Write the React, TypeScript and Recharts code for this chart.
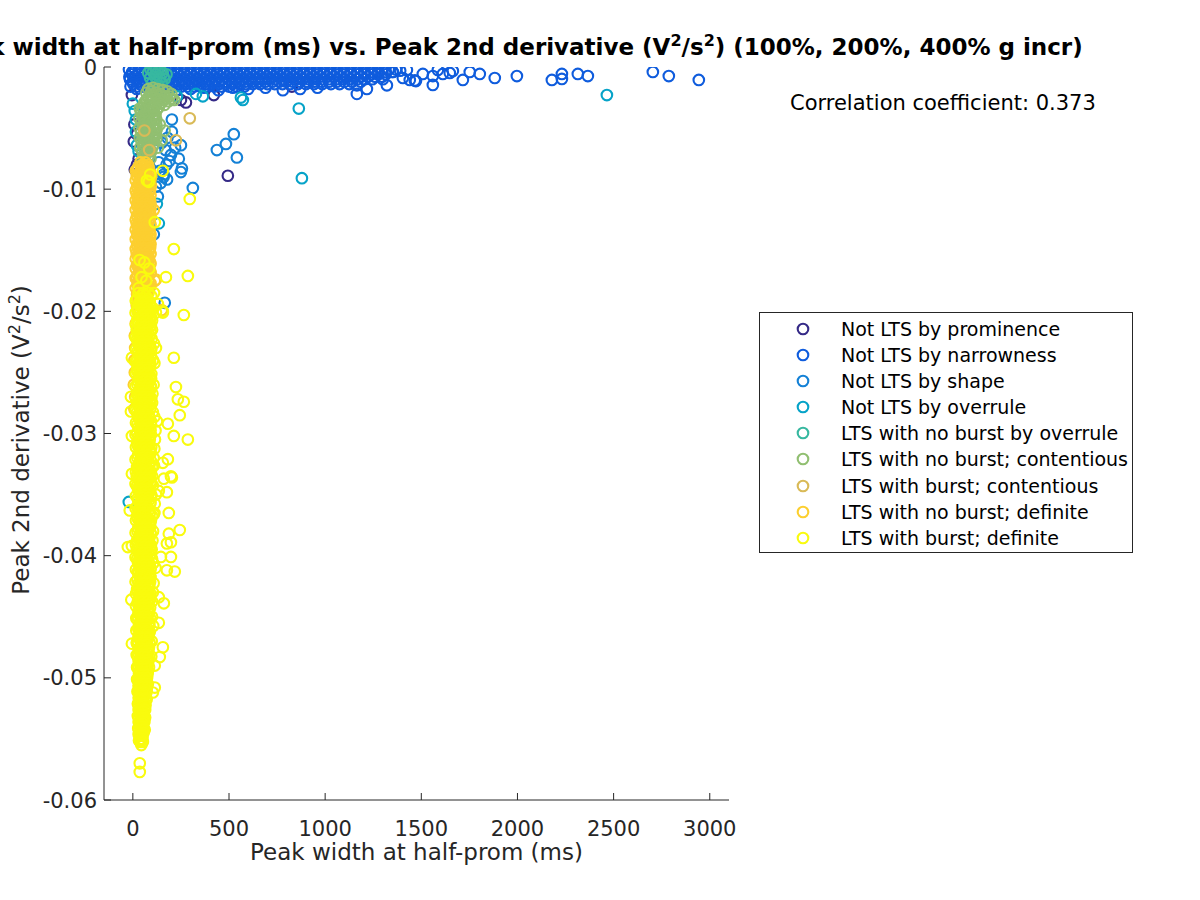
import React from 'react';
import { ScatterChart, Scatter, XAxis, YAxis, Legend } from 'recharts';

const FONT = '"DejaVu Sans", sans-serif';
const AXIS = '#262626';

const seriesNames = [
  'Not LTS by prominence',
  'Not LTS by narrowness',
  'Not LTS by shape',
  'Not LTS by overrule',
  'LTS with no burst by overrule',
  'LTS with no burst; contentious',
  'LTS with burst; contentious',
  'LTS with no burst; definite',
  'LTS with burst; definite',
];
const seriesColors = ['#352A87', '#0F5CDD', '#1481D6', '#06A3C8', '#37B8A0', '#91BF71', '#D9BA57', '#FCCF30', '#F9FB0E'];
const xTicks = [0, 500, 1000, 1500, 2000, 2500, 3000];
const yTicks = [-0.06, -0.05, -0.04, -0.03, -0.02, -0.01, 0];
const correlation = 0.373;

// [width (ms), peak 2nd derivative (V^2/s^2)]
const notLtsProminence: [number, number][] = [
  [-5, -0.0023], [276, -0.0029], [250, -0.0027], [421, -0.0023], [21, -0.0055], [5, -0.0061],
  [494, -0.0089], [827, -0.0016], [10, -0.0084], [21, -0.008], [30, -0.0075], [8, -0.0047],
];

// rows of [peak 2nd derivative, widths...]
const notLtsNarrownessRows: [number, number[]][] = [
  [-0.0002, [-20, 12, 45, 80, 112, 148, 180, 215, 250, 283, 318, 352, 388, 420, 455, 490, 524, 560, 593, 628, 662, 698, 732, 768, 800, 836, 870, 905, 940, 975, 1010, 1045, 1080, 1115, 1150, 1185, 1222, 1258, 1295, 1330, 1368]],
  [-0.0004, [-3, 30, 62, 96, 130, 164, 197, 232, 266, 300, 335, 370, 404, 437, 472, 507, 541, 576, 610, 645, 680, 715, 750, 784, 818, 853, 888, 922, 957, 992, 1027, 1062, 1097, 1133, 1168, 1204, 1240, 1276, 1312, 1350]],
  [-0.0006, [-5, 28, 62, 96, 130, 165, 198, 232, 266, 300, 335, 370, 404, 438, 472, 507, 541, 576, 610, 645, 680, 715, 750, 785, 818, 852, 888, 922, 958, 992, 1027, 1062, 1097, 1132, 1168, 1204, 1240, 1276, 1315]],
  [-0.0008, [-18, 14, 46, 80, 114, 148, 182, 216, 250, 284, 318, 352, 386, 420, 455, 490, 524, 558, 592, 626, 660, 695, 730, 765, 800, 835, 870, 905, 940, 975, 1010, 1045, 1080, 1115, 1150, 1186, 1222, 1260, 1296]],
  [-0.001, [-15, 18, 52, 86, 120, 155, 188, 222, 256, 290, 325, 360, 394, 428, 463, 498, 532, 566, 600, 636, 670, 705, 740, 775, 810, 845, 880, 915, 950, 986, 1022, 1058, 1094, 1130, 1168, 1205, 1245]],
  [-0.0012, [0, 34, 68, 102, 136, 170, 205, 240, 274, 308, 342, 377, 411, 446, 480, 515, 550, 585, 620, 655, 690, 726, 762, 798, 834, 870, 906, 944, 982, 1020, 1060, 1100, 1140, 1185]],
  [-0.0014, [2, 36, 70, 104, 138, 172, 206, 240, 275, 310, 345, 380, 414, 448, 483, 518, 553, 588, 624, 662, 700, 738, 778, 818, 858, 900, 942, 985, 1030, 1075, 1125]],
  [-0.0016, [-12, 22, 55, 88, 120, 152, 185, 218, 252, 285, 318, 352, 388, 424, 462, 500, 540, 580]],
];
const notLtsNarrowness: [number, number][] = [
  [20, -0.0018], [90, -0.0019], [160, -0.0018], [225, -0.0019], [300, -0.0018], [370, -0.0017], [445, -0.0019],
  [520, -0.0017], [600, -0.0018], [690, -0.0017], [780, -0.0019], [870, -0.0018], [960, -0.0017],
  [1165, -0.0022], [1217, -0.0018], [1165, -0.0015], [1321, -0.0015],
  [1274, -0.0006], [1300, -0.001], [1352, -0.0004], [1390, -0.0003], [1404, -0.0009], [1425, -0.00025],
  [1440, -0.00106], [1466, -0.0011], [1472, -0.00115], [1508, -0.00057], [1560, -0.00074], [1560, -0.00147],
  [1586, -0.00025], [1612, -0.00057], [1648, -0.00049], [1664, -0.00033], [1716, -0.00106], [1752, -0.00041],
  [1804, -0.00057], [1882, -0.0009], [1997, -0.00074], [2179, -0.00106], [2231, -0.00057], [2231, -0.00098],
  [2314, -0.00057], [2366, -0.00074], [2704, -0.00041], [2787, -0.00074], [2943, -0.00106],
];

const notLtsShape: [number, number][] = [
  [203, -0.0043], [203, -0.0053], [525, -0.0055], [484, -0.0063], [437, -0.0068], [250, -0.0064], [239, -0.0075],
  [541, -0.0074], [255, -0.0083], [198, -0.0072], [175, -0.008], [312, -0.0099], [130, -0.0106], [145, -0.0095],
  [166, -0.0193], [250, -0.0086], [109, -0.0137], [160, -0.0088], [220, -0.0066], [180, -0.0058], [150, -0.0062],
  [170, -0.0068], [190, -0.0077], [140, -0.0085], [160, -0.009], [178, -0.0092], [120, -0.0098], [135, -0.0078],
];

const notLtsOverrule: [number, number][] = [
  [0, -0.003], [328, -0.0022], [364, -0.0024], [229, -0.0024], [562, -0.0025], [572, -0.0027], [863, -0.0034],
  [879, -0.0091], [2465, -0.0023], [-21, -0.0356], [16, -0.0043], [16, -0.0053], [21, -0.0064], [42, -0.0078],
  [10, -0.0036], [30, -0.0069], [125, -0.0112], [135, -0.0128],
];

const ltsNoBurstOverrule: [number, number][] = [
  [80, -0.0005], [105, -0.0004], [130, -0.0004], [155, -0.0005], [175, -0.0006], [90, -0.0009], [115, -0.0008],
  [140, -0.0009], [165, -0.001], [100, -0.0013], [125, -0.0012], [150, -0.0013], [110, -0.0017], [135, -0.0016],
  [92, -0.0002], [118, -0.0002], [145, -0.0003], [160, -0.0008], [120, -0.0006],
];

const ltsNoBurstContentious: [number, number][] = [
  [80, -0.0018], [105, -0.0017], [130, -0.0018], [155, -0.0019], [180, -0.002], [200, -0.0022], [95, -0.0023],
  [120, -0.0023], [145, -0.0024], [175, -0.0026], [70, -0.0027], [100, -0.0027], [125, -0.0028], [150, -0.0029],
  [70, -0.0021], [95, -0.002], [120, -0.0021], [145, -0.0022], [170, -0.0024], [80, -0.0025], [105, -0.0025],
  [130, -0.0026], [155, -0.0027], [185, -0.0028], [60, -0.0029], [90, -0.0029], [115, -0.003], [140, -0.003],
  [165, -0.0031], [190, -0.0024], [215, -0.0027], [203, -0.0026],
  [48, -0.0033], [72, -0.0034], [98, -0.0033], [125, -0.0035], [42, -0.0037], [66, -0.0038], [92, -0.0037],
  [118, -0.0039], [50, -0.0041], [75, -0.0042], [100, -0.0041], [45, -0.0045], [68, -0.0046], [95, -0.0045],
  [122, -0.0047], [52, -0.0049], [78, -0.005], [102, -0.0049], [44, -0.0053], [70, -0.0054], [96, -0.0053],
  [120, -0.0055], [50, -0.0057], [76, -0.0058], [100, -0.0057], [46, -0.0061], [72, -0.0062], [98, -0.0061],
  [54, -0.0065], [80, -0.0066], [104, -0.0065], [48, -0.0069], [74, -0.007], [96, -0.0069], [55, -0.0073],
  [80, -0.0074], [62, -0.0076], [140, -0.0047], [165, -0.0052], [150, -0.006], [130, -0.0066],
  [60, -0.0031], [85, -0.0032], [110, -0.0032], [135, -0.0033], [56, -0.0035], [82, -0.0036], [108, -0.0036],
  [58, -0.0039], [84, -0.004], [110, -0.004], [60, -0.0043], [86, -0.0044], [110, -0.0043], [58, -0.0047],
  [84, -0.0048], [110, -0.0047], [60, -0.0051], [88, -0.0052], [112, -0.0051], [58, -0.0055], [84, -0.0056],
  [108, -0.0056], [60, -0.0059], [86, -0.006], [110, -0.0059], [58, -0.0063], [84, -0.0064], [110, -0.0063],
  [62, -0.0067], [88, -0.0068], [64, -0.0071], [88, -0.0072],
  [36, -0.0034], [34, -0.0042], [34, -0.005], [36, -0.0058], [38, -0.0066], [122, -0.0043], [124, -0.0051],
  [122, -0.0059], [92, -0.0075], [68, -0.0078],
];

const ltsBurstContentious: [number, number][] = [[296, -0.0042], [224, -0.006], [60, -0.0052], [85, -0.0068]];

const ltsNoBurstDefiniteRows: [number, number[]][] = [
  [-0.0078, [40, 65]], [-0.008, [52, 78]], [-0.0081, [40, 66]], [-0.0082, [28, 55, 82]], [-0.0084, [22, 48, 75]],
  [-0.0085, [15, 42, 68]], [-0.0086, [38, 64, 90]], [-0.0088, [32, 58, 84]], [-0.0089, [20, 46, 72, 96]],
  [-0.009, [25, 50, 78]], [-0.0092, [40, 66, 92]], [-0.0093, [15, 42, 68]], [-0.0094, [35, 60, 88]],
  [-0.0096, [28, 54, 80]], [-0.0097, [40, 66, 94]], [-0.0098, [22, 48, 75]], [-0.01, [38, 64, 90]],
  [-0.0101, [15, 42, 68]], [-0.0102, [32, 58, 85]], [-0.0104, [20, 44, 70]], [-0.0105, [36, 62, 92]],
  [-0.0106, [25, 50, 78]], [-0.0108, [30, 56, 84]], [-0.0109, [15, 42, 68]], [-0.011, [36, 62, 90]],
  [-0.0112, [22, 48, 76]], [-0.0113, [36, 62, 92]], [-0.0114, [24, 48, 74]], [-0.0116, [40, 66, 92]],
  [-0.0117, [15, 42, 68]], [-0.0118, [34, 60, 86]], [-0.012, [28, 54, 80]], [-0.0121, [36, 62, 92]],
  [-0.0122, [22, 48, 76]], [-0.0124, [38, 64, 90]], [-0.0125, [15, 42, 68]], [-0.0126, [32, 58, 84]],
  [-0.0128, [20, 46, 72]], [-0.0129, [36, 62, 92]], [-0.013, [25, 50, 78]], [-0.0132, [30, 56, 82]],
  [-0.0133, [15, 42, 68]], [-0.0134, [36, 62, 88]], [-0.0136, [22, 48, 76]], [-0.0137, [36, 62, 92]],
  [-0.0138, [24, 48, 74]], [-0.014, [40, 66, 90]], [-0.0141, [15, 42, 68]], [-0.0142, [32, 58, 84]],
  [-0.0144, [28, 54, 80]], [-0.0145, [36, 62, 92]], [-0.0146, [22, 48, 76]], [-0.0148, [38, 64, 90]],
  [-0.0149, [15, 42, 68]], [-0.015, [34, 60, 86]], [-0.0152, [20, 46, 72]], [-0.0153, [36, 62, 92]],
  [-0.0154, [25, 50, 78]], [-0.0156, [30, 56, 82]], [-0.0157, [15, 42, 68]], [-0.0158, [32, 58, 84]],
  [-0.016, [40, 66, 90]], [-0.0161, [36, 62, 92]], [-0.0162, [22, 48, 74]], [-0.0164, [28, 54, 80]],
  [-0.0165, [15, 42, 68]], [-0.0166, [34, 60, 86]], [-0.0168, [38, 64, 92]], [-0.0169, [36, 62, 92]],
  [-0.017, [26, 52, 78]], [-0.0172, [20, 46, 72]], [-0.0173, [15, 42, 68]], [-0.0174, [36, 62, 120]],
  [-0.0176, [30, 56, 82]], [-0.0177, [36, 62, 92]], [-0.0178, [24, 50, 76]], [-0.018, [40, 66, 90]],
  [-0.0181, [15, 42, 68]], [-0.0182, [32, 58, 84]], [-0.0184, [28, 54, 78]], [-0.0185, [36, 62]],
  [-0.0186, [22, 48]], [-0.0188, [38, 64]], [-0.019, [30, 60]], [-0.0193, [25, 52]], [-0.0195, [20, 45]],
  [-0.0198, [35, 60]], [-0.02, [25]], [-0.021, [15]], [-0.022, [10]], [-0.023, [12]], [-0.024, [8]],
  [-0.025, [10]], [-0.026, [5]], [-0.027, [12]], [-0.028, [8]],
];
const ltsNoBurstDefiniteExtra: [number, number][] = [[109, -0.0117], [114, -0.0175], [150, -0.0199]];

const ltsBurstDefiniteRows: [number, number[]][] = [
  [-0.0185, [30, 55, 82, 110]], [-0.01875, [42, 68, 96]], [-0.019, [22, 48, 75]], [-0.019125, [15, 40, 67]],
  [-0.01925, [35, 60, 88]], [-0.0195, [35, 62, 90]], [-0.019625, [44, 70, 96]], [-0.01975, [24, 50, 76, 104]],
  [-0.02, [25, 52, 80, 156]], [-0.020125, [14, 38, 64, 92]], [-0.02025, [30, 56, 82]], [-0.0205, [40, 66, 95]],
  [-0.020625, [33, 58, 86]], [-0.02075, [22, 48, 74, 100]], [-0.021, [28, 55, 84]], [-0.021125, [16, 42, 68, 94]],
  [-0.02125, [36, 62, 90]], [-0.0215, [20, 46, 72, 100]], [-0.021625, [38, 64, 92]], [-0.02175, [28, 54, 80]],
  [-0.022, [33, 60, 88]], [-0.022125, [14, 40, 66]], [-0.02225, [22, 46, 72, 98]], [-0.0225, [25, 50, 78]],
  [-0.022625, [30, 56, 84, 110]], [-0.02275, [36, 62, 88]], [-0.023, [38, 64, 92, 120]], [-0.023125, [16, 44, 70, 96]],
  [-0.02325, [26, 52, 78]], [-0.0235, [28, 55, 82]], [-0.023625, [40, 66, 94]], [-0.02375, [34, 62, 92]],
  [-0.024, [22, 48, 76, 105]], [-0.024125, [14, 38, 64, 90]], [-0.02425, [28, 56, 84, 112]], [-0.0245, [35, 62, 90]],
  [-0.024625, [30, 58, 86]], [-0.02475, [22, 48, 74]], [-0.025, [26, 52, 80]], [-0.025125, [16, 42, 68, 96]],
  [-0.02525, [34, 60, 88]], [-0.0255, [40, 66, 95]], [-0.025625, [36, 62, 90]], [-0.02575, [28, 54, 82]],
  [-0.026, [24, 50, 78, 108]], [-0.026125, [14, 40, 66, 94]], [-0.02625, [40, 66, 94]], [-0.0265, [34, 60, 88]],
  [-0.026625, [30, 56, 84]], [-0.02675, [22, 48, 74, 102]], [-0.027, [28, 55, 84]], [-0.027125, [16, 44, 70, 96]],
  [-0.02725, [38, 64, 92]], [-0.0275, [22, 46, 72, 100]], [-0.027625, [38, 64, 92]], [-0.02775, [30, 56, 84]],
  [-0.028, [36, 62, 90]], [-0.028125, [14, 40, 66]], [-0.02825, [22, 48, 74, 104]], [-0.0285, [26, 52, 80]],
  [-0.028625, [30, 58, 86, 112]], [-0.02875, [34, 60, 88]], [-0.029, [40, 66, 94, 125]], [-0.029125, [16, 42, 68, 94]],
  [-0.02925, [24, 50, 78]], [-0.0295, [28, 55, 82]], [-0.029625, [36, 62, 90]], [-0.02975, [38, 64, 92, 118]],
  [-0.03, [22, 48, 76]], [-0.030125, [14, 40, 66, 94]], [-0.03025, [30, 56, 84]], [-0.0305, [34, 60, 88, 115]],
  [-0.030625, [30, 56, 84]], [-0.03075, [22, 48, 76]], [-0.031, [26, 52, 80]], [-0.031125, [16, 44, 70, 96]],
  [-0.03125, [34, 60, 88, 112]], [-0.0315, [38, 64, 92]], [-0.031625, [38, 64, 92]], [-0.03175, [28, 54, 80]],
  [-0.032, [24, 50, 78, 108]], [-0.032125, [14, 40, 66]], [-0.03225, [38, 64, 94]], [-0.0325, [32, 58, 86]],
  [-0.032625, [30, 58, 86, 110]], [-0.03275, [22, 46, 72, 100]], [-0.033, [26, 54, 82]], [-0.033125, [16, 42, 68, 94]],
  [-0.03325, [34, 60, 88]], [-0.0335, [20, 46, 72, 100]], [-0.033625, [36, 62, 90]], [-0.03375, [28, 56, 84]],
  [-0.034, [35, 62, 90]], [-0.034125, [14, 40, 66, 94]], [-0.03425, [22, 48, 76, 104]], [-0.0345, [26, 52, 80]],
  [-0.034625, [30, 56, 84]], [-0.03475, [34, 60, 88]], [-0.035, [40, 66, 95, 120]], [-0.035125, [16, 44, 70, 96]],
  [-0.03525, [26, 52, 80]], [-0.0355, [28, 55, 82]], [-0.035625, [38, 64, 92]], [-0.03575, [36, 62, 90, 114]],
  [-0.036, [22, 48, 76]], [-0.036125, [14, 40, 66]], [-0.03625, [30, 56, 84]], [-0.0365, [34, 60, 88, 112]],
  [-0.036625, [30, 58, 86, 108]], [-0.03675, [22, 46, 72, 100]], [-0.037, [26, 52, 80]], [-0.037125, [16, 42, 68, 94]],
  [-0.03725, [36, 62, 90]], [-0.0375, [38, 64, 90]], [-0.037625, [36, 62, 90]], [-0.03775, [28, 54, 82]],
  [-0.038, [24, 50, 78, 105]], [-0.038125, [14, 40, 66, 92]], [-0.03825, [40, 66, 94]], [-0.0385, [32, 58, 86]],
  [-0.038625, [30, 56, 84]], [-0.03875, [22, 48, 74, 102]], [-0.039, [26, 54, 82]], [-0.039125, [16, 44, 70, 94]],
  [-0.03925, [36, 62, 90]], [-0.0395, [20, 46, 72, 98]], [-0.039625, [38, 64, 90]], [-0.03975, [30, 56, 82]],
  [-0.04, [35, 62, 88]], [-0.040125, [14, 40, 66]], [-0.04025, [22, 46, 72, 100]], [-0.0405, [26, 52, 80]],
  [-0.040625, [30, 58, 84, 106]], [-0.04075, [34, 60, 86]], [-0.041, [40, 66, 92, 118]], [-0.041125, [16, 42, 68, 92]],
  [-0.04125, [28, 54, 80]], [-0.0415, [28, 55, 82]], [-0.041625, [36, 62, 88]], [-0.04175, [38, 64, 92]],
  [-0.042, [24, 48, 76]], [-0.042125, [14, 40, 66, 90]], [-0.04225, [30, 56, 84, 108]], [-0.0425, [34, 60, 86]],
  [-0.042625, [30, 56, 82]], [-0.04275, [22, 46, 72]], [-0.043, [26, 52, 78, 104]], [-0.043125, [16, 44, 70, 92]],
  [-0.04325, [34, 60, 86]], [-0.0435, [38, 64, 88]], [-0.043625, [36, 62, 86]], [-0.04375, [26, 50, 76, 100]],
  [-0.044, [28, 54, 80]], [-0.044125, [16, 42, 66]], [-0.04425, [38, 64, 90]], [-0.0445, [32, 58, 84]],
  [-0.044625, [30, 56, 82]], [-0.04475, [30, 56, 82]], [-0.045, [26, 50, 76, 100]], [-0.045125, [18, 44, 68, 90]],
  [-0.04525, [24, 48, 72]], [-0.0455, [36, 62, 86]], [-0.045625, [36, 60, 84]], [-0.04575, [32, 58, 84, 106]],
  [-0.046, [28, 54, 78]], [-0.046125, [18, 42, 66]], [-0.04625, [38, 62, 88]], [-0.0465, [34, 58, 82]],
  [-0.046625, [30, 54, 80]], [-0.04675, [30, 54, 80]], [-0.047, [26, 50, 74, 98]], [-0.047125, [20, 44, 68, 88]],
  [-0.04725, [24, 48, 72]], [-0.0475, [36, 60, 84]], [-0.047625, [34, 58, 80]], [-0.04775, [32, 56, 80]],
  [-0.048, [30, 54, 78]], [-0.048125, [20, 44, 66]], [-0.04825, [26, 50, 74, 96]], [-0.0485, [36, 58, 80]],
  [-0.048625, [30, 54, 76]], [-0.04875, [34, 58, 80]], [-0.049, [30, 52, 76]], [-0.049125, [22, 44, 66, 84]],
  [-0.04925, [28, 50, 72]], [-0.0495, [36, 58, 78]], [-0.049625, [32, 54, 74]], [-0.04975, [34, 56, 76]],
  [-0.05, [32, 54, 74]], [-0.050125, [22, 44, 64]], [-0.05025, [28, 50, 70]], [-0.0505, [38, 60, 78]],
  [-0.050625, [30, 52, 70]], [-0.05075, [32, 54, 74]], [-0.051, [34, 56, 72]], [-0.051125, [24, 44, 62]],
  [-0.05125, [30, 50, 70]], [-0.0515, [38, 58]], [-0.051625, [30, 50, 66]], [-0.05175, [34, 54, 72]],
  [-0.052, [36, 56]], [-0.052125, [26, 44, 60]], [-0.05225, [30, 48, 66]], [-0.0525, [40, 60]],
  [-0.052625, [30, 48, 64]], [-0.05275, [34, 52]], [-0.053, [36, 54]], [-0.053125, [26, 44, 58]],
  [-0.05325, [30, 48, 64]], [-0.0535, [40, 58]], [-0.053625, [30, 46, 60]], [-0.05375, [34, 52]],
  [-0.054, [38, 52]], [-0.054125, [28, 44, 56]], [-0.05425, [32, 48, 62]], [-0.0545, [42, 56]],
  [-0.054625, [30, 46]], [-0.05475, [36, 50]], [-0.055, [40, 50]], [-0.055125, [32, 46]], [-0.05525, [38, 52]],
  [-0.0555, [44]], [-0.057, [36]], [-0.0577, [36]],
];
const ltsBurstDefiniteExtra: [number, number][] = [
  [-5, -0.0238], [-10, -0.027], [-10, -0.0282], [-5, -0.0302], [-5, -0.0333], [-16, -0.0363], [-5, -0.0392],
  [-26, -0.0393], [-8, -0.0436], [-5, -0.0472],
  [296, -0.0108], [156, -0.0085], [83, -0.0094], [73, -0.0093], [90, -0.0088], [114, -0.0127], [213, -0.0149],
  [172, -0.0172], [286, -0.0171], [265, -0.0203], [156, -0.0201], [35, -0.0158], [60, -0.016], [85, -0.0165],
  [45, -0.0172], [70, -0.0175], [30, -0.0181], [130, -0.0194], [120, -0.0201],
  [213, -0.0238], [224, -0.0262], [234, -0.0272], [265, -0.0274], [244, -0.0285], [182, -0.0292], [213, -0.0302],
  [286, -0.0305], [182, -0.0321], [156, -0.0324], [198, -0.0335], [161, -0.0337], [203, -0.0336], [135, -0.0347],
  [177, -0.0348], [187, -0.0365], [244, -0.0379], [187, -0.0382], [198, -0.0389], [177, -0.039], [146, -0.0401],
  [198, -0.0401], [177, -0.0412], [218, -0.0413], [135, -0.0434], [161, -0.0439], [135, -0.0455], [156, -0.0475],
  [140, -0.0483], [114, -0.049], [114, -0.0508], [104, -0.0512],
];

const pairs = (arr: [number, number][]) => arr.map(([x, y]) => ({ x, y }));
const fromRows = (rows: [number, number[]][]) => rows.flatMap(([y, xs]) => xs.map((x) => ({ x, y })));

const seriesData = [
  pairs(notLtsProminence),
  [...fromRows(notLtsNarrownessRows), ...pairs(notLtsNarrowness)],
  pairs(notLtsShape),
  pairs(notLtsOverrule),
  pairs(ltsNoBurstOverrule),
  pairs(ltsNoBurstContentious),
  pairs(ltsBurstContentious),
  [...fromRows(ltsNoBurstDefiniteRows), ...pairs(ltsNoBurstDefiniteExtra)],
  [...fromRows(ltsBurstDefiniteRows), ...pairs(ltsBurstDefiniteExtra)],
];

const R = 5.3;
const SW = 2.1;
const ring = (color: string) => (props: any) => (
  <circle cx={props.cx} cy={props.cy} r={R} fill="none" stroke={color} strokeWidth={SW} />
);

const TICK = 7;
const BottomTick = (p: any) => (
  <g>
    <line x1={p.x} y1={p.y} x2={p.x} y2={p.y - TICK} stroke={AXIS} />
    <text x={p.x} y={p.y + 36} textAnchor="middle" fontSize={21} fontFamily={FONT} fill={AXIS}>
      {p.payload.value}
    </text>
  </g>
);
const LeftTick = (p: any) => (
  <g>
    <line x1={p.x} y1={p.y} x2={p.x + TICK} y2={p.y} stroke={AXIS} />
    <text x={p.x - 7} y={p.y + 7.5} textAnchor="end" fontSize={21} fontFamily={FONT} fill={AXIS}>
      {p.payload.value === 0 ? '0' : p.payload.value.toFixed(2)}
    </text>
  </g>
);
const TopTick = (p: any) => <line x1={p.x} y1={p.y} x2={p.x} y2={p.y + TICK} stroke={AXIS} />;
const RightTick = (p: any) => <line x1={p.x} y1={p.y} x2={p.x - TICK} y2={p.y} stroke={AXIS} />;

const LegendBox = () => (
  <div
    style={{
      boxSizing: 'border-box', width: 374, height: 241, border: '1px solid #262626', background: '#fff',
      paddingTop: 3, fontFamily: FONT, fontSize: 19, color: '#000',
    }}
  >
    {seriesNames.map((n, i) => (
      <div key={n} style={{ height: 26.1, position: 'relative' }}>
        <svg width={16} height={16} style={{ position: 'absolute', left: 35, top: 5 }}>
          <circle cx={8} cy={8} r={R} fill="none" stroke={seriesColors[i]} strokeWidth={SW} />
        </svg>
        <span style={{ position: 'absolute', left: 81, top: 1, whiteSpace: 'nowrap', lineHeight: '24px' }}>{n}</span>
      </div>
    ))}
  </div>
);

export default function App() {
  return (
    <div style={{ position: 'absolute', left: 0, top: 0, width: 1200, height: 900, background: '#fff' }}>
      <ScatterChart width={1200} height={900} margin={{ top: 67, right: 471, bottom: 0, left: 0 }}>
        <XAxis
          dataKey="x" type="number" domain={[-150, 3100]} ticks={xTicks} interval={0} height={100}
          tickSize={0} tickMargin={0} tickLine={false} axisLine={{ stroke: AXIS }} tick={<BottomTick />}
          allowDataOverflow
        />
        <XAxis
          xAxisId="top" orientation="top" dataKey="x" type="number" domain={[-150, 3100]} ticks={xTicks}
          interval={0} height={0} tickSize={0} tickMargin={0} tickLine={false} axisLine={{ stroke: AXIS }}
          tick={<TopTick />} allowDataOverflow
        />
        <YAxis
          dataKey="y" type="number" domain={[-0.06, 0]} ticks={yTicks} interval={0} width={104}
          tickSize={0} tickMargin={0} tickLine={false} axisLine={{ stroke: AXIS }} tick={<LeftTick />}
          allowDataOverflow
        />
        <YAxis
          yAxisId="right" orientation="right" dataKey="y" type="number" domain={[-0.06, 0]} ticks={yTicks}
          interval={0} width={0} tickSize={0} tickMargin={0} tickLine={false} axisLine={{ stroke: AXIS }}
          tick={<RightTick />} allowDataOverflow
        />
        {seriesData.map((d, i) => (
          <Scatter
            key={seriesNames[i]} name={seriesNames[i]} data={d} fill="none" stroke={seriesColors[i]}
            shape={ring(seriesColors[i])} isAnimationActive={false}
          />
        ))}
        <Legend
          content={<LegendBox />} layout="horizontal" verticalAlign="middle" align="center"
          wrapperStyle={{ position: 'absolute', left: 759, top: 312, width: 374, height: 241 }}
        />
        <text x={512} y={55} textAnchor="middle" fontSize={23} fontWeight="bold" fontFamily={FONT} fill="#000">
          Peak width at half-prom (ms) vs. Peak 2nd derivative (V
          <tspan dy={-9} fontSize={16}>2</tspan>
          <tspan dy={9}>/s</tspan>
          <tspan dy={-9} fontSize={16}>2</tspan>
          <tspan dy={9}>) (100%, 200%, 400% g incr)</tspan>
        </text>
        <text x={790} y={110} fontSize={21} fontFamily={FONT} fill="#000">
          Correlation coefficient: {correlation}
        </text>
        <text x={416.5} y={860} textAnchor="middle" fontSize={23} fontFamily={FONT} fill={AXIS}>
          Peak width at half-prom (ms)
        </text>
        <text transform="translate(29,440) rotate(-90)" x={0} y={0} textAnchor="middle" fontSize={23} fontFamily={FONT} fill={AXIS}>
          Peak 2nd derivative (V
          <tspan dy={-9} fontSize={16}>2</tspan>
          <tspan dy={9}>/s</tspan>
          <tspan dy={-9} fontSize={16}>2</tspan>
          <tspan dy={9}>)</tspan>
        </text>
      </ScatterChart>
    </div>
  );
}
